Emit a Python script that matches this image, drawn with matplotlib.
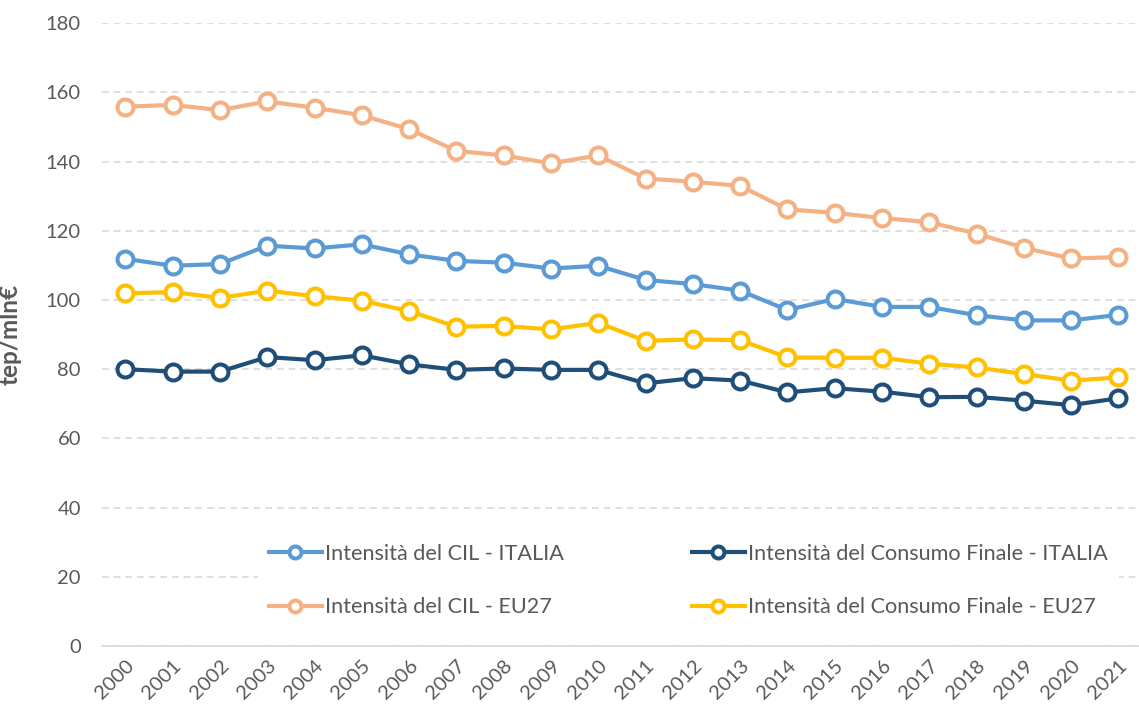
import matplotlib
matplotlib.use("Agg")
import matplotlib.pyplot as plt

plt.rcParams['font.family'] = ['Lato', 'DejaVu Sans']

years = [str(y) for y in range(2000, 2022)]

cil_italia = [111.9, 109.9, 110.4, 115.7, 114.9, 116.1, 113.2, 111.3, 110.8, 109.1, 109.9,
              105.8, 104.6, 102.7, 97.1, 100.3, 98.0, 98.0, 95.6, 94.1, 94.1, 95.7]
cil_eu27 = [155.9, 156.4, 154.9, 157.4, 155.6, 153.4, 149.4, 143.1, 141.8, 139.5, 141.8,
            135.1, 134.2, 133.0, 126.2, 125.2, 123.7, 122.5, 119.2, 115.1, 112.0, 112.4]
cf_italia = [80.0, 79.3, 79.3, 83.5, 82.6, 84.0, 81.4, 79.8, 80.2, 79.8, 79.8,
             75.9, 77.4, 76.7, 73.3, 74.5, 73.5, 71.9, 72.0, 70.9, 69.6, 71.6]
cf_eu27 = [101.9, 102.3, 100.6, 102.7, 101.1, 99.8, 96.8, 92.3, 92.5, 91.5, 93.4,
           88.2, 88.6, 88.4, 83.4, 83.3, 83.3, 81.6, 80.5, 78.6, 76.7, 77.6]

series = [
    ("Intensità del CIL - ITALIA", cil_italia, "#5B9BD5"),
    ("Intensità del CIL - EU27", cil_eu27, "#F4B183"),
    ("Intensità del Consumo Finale - ITALIA", cf_italia, "#1F4E79"),
    ("Intensità del Consumo Finale - EU27", cf_eu27, "#FFC000"),
]
draw_order = [1, 0, 3, 2]

fig = plt.figure(figsize=(11.39, 7.10), dpi=100)
ax = fig.add_axes([0.0893, 0.0903, 0.9134, 0.8769])

x = list(range(len(years)))
handles = {}
for i in draw_order:
    label, vals, col = series[i]
    h, = ax.plot(x, vals, color=col, lw=3.0, marker='o', ms=11.5,
                 mfc='white', mec=col, mew=2.9, label=label, zorder=3 + i)
    handles[i] = h

ax.set_xlim(-0.5, len(years) - 0.5)
ax.set_ylim(0, 180)
ax.set_yticks(range(0, 181, 20))
ax.set_xticks(x)
ax.set_xticklabels(years, rotation=45, ha='right', va='top', rotation_mode='anchor')

ax.grid(axis='y', color='#D9D9D9', lw=1.2, ls=(0, (4, 3)))
ax.set_axisbelow(True)
for s in ['top', 'right', 'left']:
    ax.spines[s].set_visible(False)
ax.spines['bottom'].set_color('#D9D9D9')
ax.spines['bottom'].set_linewidth(1.2)
ax.tick_params(axis='both', length=0, labelsize=14.5, labelcolor='#595959')
ax.tick_params(axis='y', pad=15)
ax.tick_params(axis='x', pad=8)

ax.set_ylabel("tep/mln€", fontsize=17.5, fontweight='bold', color='#595959')
ax.yaxis.set_label_coords(-80 / 1040.3, 0.5)

leg = fig.legend([handles[i] for i in range(4)], [s[0] for s in series],
                 ncol=2, loc='upper left', bbox_to_anchor=(247 / 1139, 1 - 522 / 710),
                 bbox_transform=fig.transFigure, fontsize=15.6, frameon=True,
                 facecolor='white', edgecolor='none', framealpha=1, fancybox=False,
                 handlelength=2.45, handletextpad=0.15, labelspacing=1.55,
                 columnspacing=5.9, markerscale=0.75, borderpad=0.5)
for t in leg.get_texts():
    t.set_color('#595959')

fig.savefig("out.png", dpi=100)
